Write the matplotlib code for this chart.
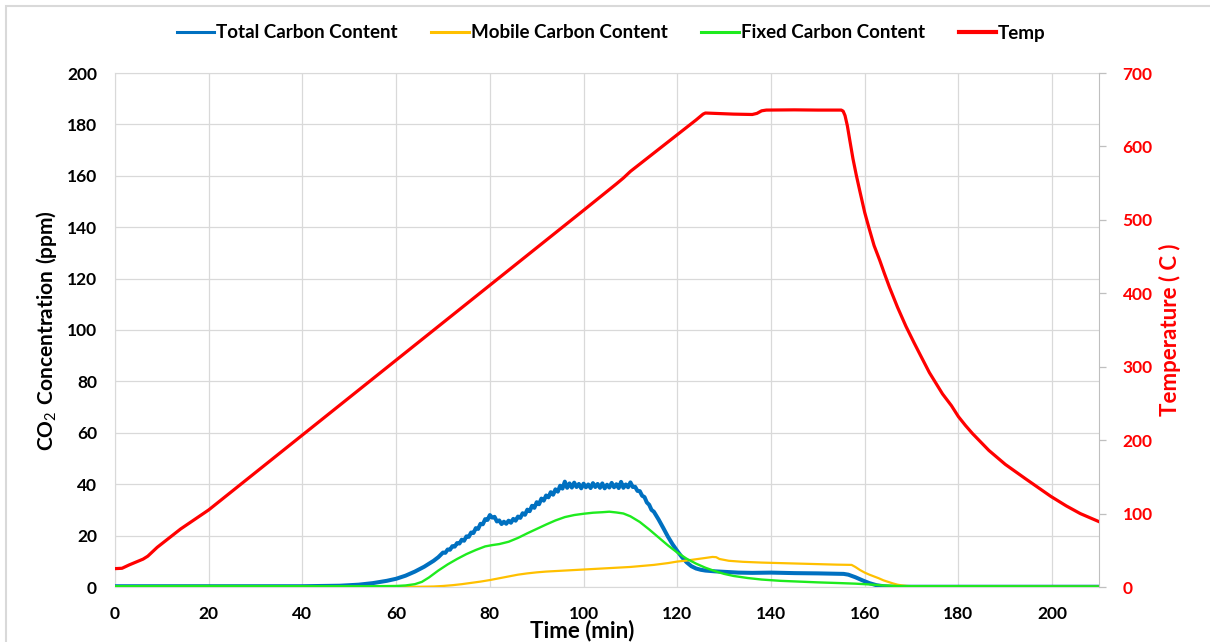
import matplotlib
matplotlib.use("Agg")
import matplotlib.pyplot as plt
from matplotlib.lines import Line2D
from matplotlib.patches import Rectangle

plt.rcParams['font.family'] = ['Lato', 'DejaVu Sans']
plt.rcParams['mathtext.fontset'] = 'custom'
plt.rcParams['mathtext.rm'] = 'Lato'
plt.rcParams['mathtext.bf'] = 'Lato:bold'

# ---- CO2 series (ppm) ----
total_t = [0, 20, 40, 48, 52, 55, 58, 60, 62, 64, 66, 68, 69,
           70.0, 70.5, 71.0, 71.5, 72.0, 72.5, 73.0, 73.5, 74.0, 74.5,
           75.0, 75.5, 76.0, 76.5, 77.0, 77.5, 78.0, 78.5, 79.0, 79.5,
           80.0, 80.5, 81.0, 81.5, 82.0, 82.5, 83.0, 83.5, 84.0, 84.5,
           85.0, 85.5, 86.0, 86.5, 87.0, 87.5, 88.0, 88.5, 89.0, 89.5,
           90.0, 90.5, 91.0, 91.5, 92.0, 92.5, 93.0, 93.5, 94.0, 94.5,
           95.0, 95.5, 96.0, 96.5, 97.0, 97.5, 98.0, 98.5, 99.0, 99.5,
           100.0, 100.5, 101.0, 101.5, 102.0, 102.5, 103.0, 103.5, 104.0, 104.5,
           105.0, 105.5, 106.0, 106.5, 107.0, 107.5, 108.0, 108.5, 109.0, 109.5,
           110.0, 110.5, 111.0, 111.5, 112.0, 112.5, 113.0, 113.5, 114.0, 114.5,
           115.0, 116, 117, 118, 119, 120, 121, 122, 123, 124, 125, 126, 128,
           130, 133, 136, 140, 145, 150, 155.5, 156.5, 158, 159.5, 161, 162.5,
           164, 166, 180, 210]
total_v = [0.3, 0.3, 0.3, 0.5, 0.9, 1.5, 2.4, 3.2, 4.4, 6.0, 7.9, 10.2, 11.6,
           13.4, 13.3, 14.6, 14.5, 15.9, 15.7, 17.1, 16.9, 18.4, 18.0,
           19.7, 19.5, 21.2, 21.0, 22.9, 22.6, 24.6, 24.4, 26.4, 26.1,
           28.0, 27.0, 27.3, 25.5, 25.9, 24.5, 25.4, 24.6, 25.8, 25.0,
           26.5, 25.8, 27.4, 26.9, 28.7, 28.1, 30.1, 29.5, 31.6, 30.8,
           33.0, 32.2, 34.4, 33.6, 35.6, 34.9, 36.9, 35.9, 38.0, 37.1,
           39.4, 38.3, 41.0, 38.6, 40.3, 38.7, 40.6, 38.9, 40.1, 38.4,
           40.2, 38.8, 39.9, 38.5, 40.4, 38.9, 40.1, 38.6, 40.3, 38.4,
           39.8, 38.7, 40.5, 38.8, 40.0, 38.5, 40.9, 38.6, 39.9, 38.8,
           40.7, 38.9, 39.0, 37.4, 37.3, 35.5, 35.0, 32.9, 32.0, 30.0,
           29.3, 26.3, 23.0, 19.6, 16.6, 14.0, 11.6, 9.6, 8.1, 7.2, 6.7, 6.4, 6.1,
           5.9, 5.6, 5.5, 5.6, 5.4, 5.3, 5.1, 4.8, 3.8, 2.6, 1.5, 0.7,
           0.3, 0.1, 0.1, 0.1]

mobile_t = [0, 40, 65, 68, 70, 72, 74, 76, 78, 80, 82, 84, 86, 88, 90, 92, 95,
            100, 105, 110, 115, 118, 120, 122, 124, 126, 127.5, 128.3, 129, 131,
            134, 138, 142, 146, 150, 154, 157.2, 158, 159, 160, 161, 162, 163,
            164, 165, 166, 167, 168, 169, 172, 210]
mobile_v = [0.1, 0.1, 0.1, 0.2, 0.4, 0.7, 1.1, 1.6, 2.1, 2.7, 3.4, 4.1, 4.8, 5.3, 5.7, 6.0, 6.3,
            6.8, 7.3, 7.8, 8.6, 9.3, 9.9, 10.3, 10.8, 11.3, 11.7, 11.6, 10.9, 10.2,
            9.8, 9.5, 9.3, 9.1, 8.9, 8.7, 8.6, 7.8, 6.6, 5.6, 4.8, 4.1, 3.4,
            2.6, 2.0, 1.4, 0.9, 0.6, 0.4, 0.2, 0.1]

fixed_t = [0, 20, 40, 55, 60, 62, 64, 65.5, 67, 69, 71, 73, 75, 77, 79, 80.5, 82,
           84, 86, 88, 90, 92, 94, 96, 98, 100, 102, 104, 105.5, 107, 108.5, 110,
           112, 114, 116, 118, 120, 122, 124, 126, 128, 130, 132, 135, 138, 142,
           146, 150, 155, 158, 161, 164, 167, 170, 180, 210]
fixed_v = [0.3, 0.4, 0.3, 0.3, 0.4, 0.6, 1.1, 2.0, 3.7, 6.4, 8.8, 10.9, 12.8, 14.4, 15.8, 16.3, 16.7,
           17.6, 19.1, 20.9, 22.6, 24.3, 25.9, 27.2, 28.0, 28.5, 28.9, 29.1, 29.3, 29.0, 28.6, 27.5,
           25.3, 22.4, 19.3, 16.2, 13.4, 11.0, 9.1, 7.5, 6.2, 5.1, 4.3, 3.5, 2.9, 2.4,
           2.1, 1.8, 1.5, 1.3, 1.0, 0.6, 0.4, 0.3, 0.3, 0.2]

# ---- furnace temperature (C) ----
temp_t = [0, 1.5, 3, 4.5, 6, 7, 8, 9, 10, 12, 14, 17, 20, 36, 60, 80, 100, 107,
          108.5, 110, 112, 120, 124, 125.5, 126, 128, 132, 136, 137, 138, 139,
          145, 150, 155.0, 155.4, 155.8, 156.3, 156.8, 157.5, 158.2, 159.0,
          160.0, 161.0, 162.0, 163.2, 164.2, 165.3, 167.0, 168.8, 170.5, 171.7,
          173.8, 176.6, 178.5, 180, 181.5, 183, 186.5, 190, 194.3, 197, 199.7,
          203, 206, 210]
temp_v = [25, 25.5, 30, 34, 38, 42, 48, 54, 59, 69, 79, 92, 105, 186.6, 309, 411, 513, 549,
          557, 566, 576, 616, 636, 644, 645.5, 645, 644, 643.5, 645, 648.5, 649.5,
          649.8, 649.5, 649.5, 648, 642, 628, 609, 583, 561, 538,
          510, 487, 465, 445, 427, 408, 381, 355, 333, 318,
          292, 263, 247, 232, 220, 209, 186, 167, 147.5, 135.5, 123.5,
          110.5, 100, 89]

x_ticks = [0, 20, 40, 60, 80, 100, 120, 140, 160, 180, 200]
co2_ticks = [0, 20, 40, 60, 80, 100, 120, 140, 160, 180, 200]
temp_ticks = [0, 100, 200, 300, 400, 500, 600, 700]

BLUE = '#0070C0'
ORANGE = '#FFC000'
GREEN = '#1EEB1E'
RED = '#FF0000'
GRID = '#D9D9D9'

W, H = 1210, 642
fig = plt.figure(figsize=(W / 100, H / 100), dpi=100)
ax = fig.add_axes([115 / W, 1 - 587 / H, (1099 - 115) / W, (587 - 73) / H])
ax2 = ax.twinx()

ax.plot(total_t, total_v, color=BLUE, lw=2.9, solid_joinstyle='round', zorder=3)
ax.plot(mobile_t, mobile_v, color=ORANGE, lw=1.6, zorder=4)
ax.plot(fixed_t, fixed_v, color=GREEN, lw=1.7, zorder=5)
ax2.plot(temp_t, temp_v, color=RED, lw=2.3, zorder=6)

ax.set_xlim(0, 210)
ax.set_ylim(0, 200)
ax2.set_ylim(0, 700)
ax.set_xticks(x_ticks)
ax.set_yticks(co2_ticks)
ax2.set_yticks(temp_ticks)

ax.grid(True, color=GRID, lw=0.9)
ax.set_axisbelow(True)
for s in ['left', 'bottom', 'top']:
    ax.spines[s].set_color(GRID)
    ax2.spines[s].set_visible(False)
ax.spines['right'].set_visible(False)
ax2.spines['right'].set_color('#BFBFBF')

ax.tick_params(axis='both', length=0, labelsize=12.5, pad=13)
ax.tick_params(axis='x', pad=14)
ax2.tick_params(axis='y', length=5, color='#BFBFBF', width=0.9,
                labelsize=12.5, labelcolor=RED, pad=12)
for lab in ax.get_xticklabels() + ax.get_yticklabels():
    lab.set_fontweight('bold')
for lab in ax2.get_yticklabels():
    lab.set_fontweight('bold')

fig.text(47 / W, 1 - 331 / H,
         r'$\mathbf{CO}_{\mathrm{2}}\mathbf{\ Concentration\ (ppm)}$',
         rotation=90, ha='center', va='center', fontsize=15)
fig.text(1170 / W, 1 - 330 / H, 'Temperature ( C )', rotation=90,
         ha='center', va='center', fontsize=16, fontweight='bold', color=RED)
fig.text(582 / W, 1 - 631 / H, 'Time (min)', ha='center', va='center',
         fontsize=16, fontweight='bold')

handles = [Line2D([], [], color=BLUE, lw=2.2),
           Line2D([], [], color=ORANGE, lw=2.2),
           Line2D([], [], color=GREEN, lw=2.2),
           Line2D([], [], color=RED, lw=3)]
labels = ['Total Carbon Content', 'Mobile Carbon Content',
          'Fixed Carbon Content', 'Temp']
fig.legend(handles, labels, loc='center', bbox_to_anchor=(611 / W, 1 - 33 / H),
           ncol=4, frameon=False, handlelength=2.0, handletextpad=0.1,
           columnspacing=1.8, prop={'weight': 'bold', 'size': 13.5})

# chart-area border
fig.patches.append(Rectangle((6 / W, -0.05), 1.05, 1 - 6 / H + 0.05,
                             transform=fig.transFigure, fill=False,
                             edgecolor=GRID, lw=1.5))

fig.savefig('out.png', dpi=100, facecolor='white')
